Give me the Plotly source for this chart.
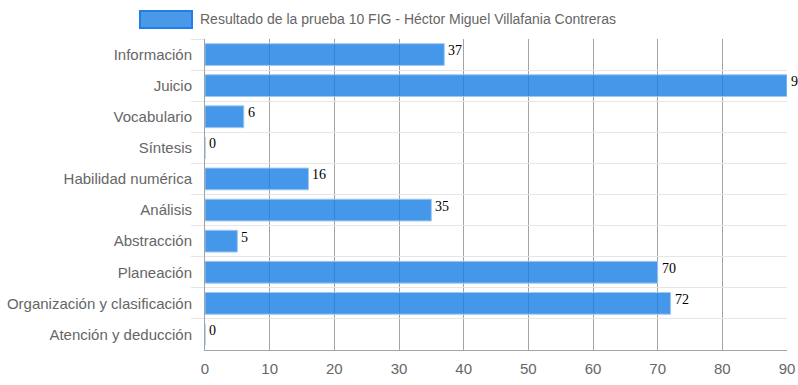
import plotly.graph_objects as go

categories = ["Información", "Juicio", "Vocabulario", "Síntesis", "Habilidad numérica",
              "Análisis", "Abstracción", "Planeación", "Organización y clasificación",
              "Atención y deducción"]
values = [37, 90, 6, 0, 16, 35, 5, 70, 72, 0]
series_name = "Resultado de la prueba 10 FIG - Héctor Miguel Villafania Contreras"
x_ticks = [0, 10, 20, 30, 40, 50, 60, 70, 80, 90]

L, R, T, B = 205, 11, 39, 35
W, H = 798, 385
pw, ph = W - L - R, H - T - B

def px_x(p):
    return (p - L) / pw

def px_y(p):
    return (H - B - p) / ph

fig = go.Figure()
fig.add_trace(go.Bar(
    x=values, y=categories, orientation="h",
    marker=dict(color="rgba(23,125,229,0.8)",
                line=dict(color="rgba(160,200,242,1)", width=1)),
    width=0.7, name=series_name, showlegend=False, hoverinfo="x+y",
))

annotations = []
for c, v in zip(categories, values):
    annotations.append(dict(
        x=v, y=c, xref="x", yref="y", text=str(v), showarrow=False,
        xanchor="left", yanchor="middle", xshift=2, yshift=4,
        font=dict(family="Liberation Serif, Times New Roman, serif", size=14, color="#000"),
    ))

# legend
annotations.append(dict(
    x=px_x(198), y=px_y(19), xref="paper", yref="paper", text=series_name,
    showarrow=False, xanchor="left", yanchor="middle",
    font=dict(family="Liberation Sans, Arial, sans-serif", size=14, color="#666"),
))
shapes = [dict(type="rect", xref="paper", yref="paper",
               x0=px_x(140), x1=px_x(192), y0=px_y(11), y1=px_y(28),
               fillcolor="rgba(74,152,232,1)", line=dict(color="rgba(30,128,230,1)", width=2))]

fig.update_layout(
    width=W, height=H,
    margin=dict(l=L, r=R, t=T, b=B, pad=0),
    plot_bgcolor="white", paper_bgcolor="white",
    font=dict(family="Liberation Sans, Arial, sans-serif", size=14, color="#666"),
    annotations=annotations, shapes=shapes,
    xaxis=dict(range=[0, 90], tickvals=x_ticks, showgrid=True,
               gridcolor="rgba(0,0,0,0.36)", gridwidth=1, zeroline=False,
               showline=True, linecolor="rgba(0,0,0,0.36)", linewidth=1,
               ticks="", tickfont=dict(size=15, color="#666"), fixedrange=True,
               ticklabelstandoff=5, automargin=False),
    yaxis=dict(type="category", categoryorder="array", categoryarray=categories,
               autorange="reversed", tickson="boundaries", showgrid=True,
               gridcolor="#e6e6e6", gridwidth=1, ticks="outside", ticklen=13,
               tickcolor="#e6e6e6", showline=True, linecolor="rgba(0,0,0,0.36)",
               linewidth=1, zeroline=False, tickfont=dict(size=15, color="#666"),
               ticklabelstandoff=9, fixedrange=True, automargin=False),
)

fig.write_html("out.html", config={"displayModeBar": False},
               post_script="document.body.style.margin='0';document.body.style.overflow='hidden';")
